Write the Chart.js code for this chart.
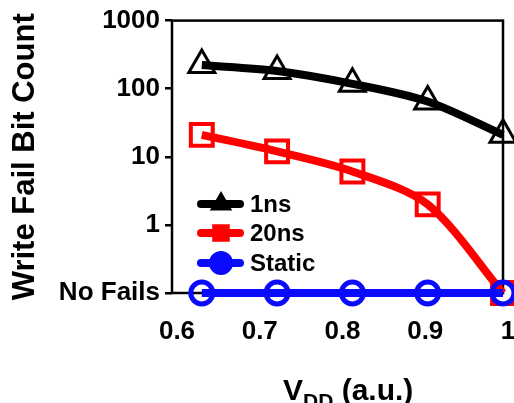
<!DOCTYPE html>
<html>
<head>
<meta charset="utf-8">
<script src="https://cdn.jsdelivr.net/npm/chart.js@4.4.1/dist/chart.umd.min.js"></script>
<style>
  html, body { margin: 0; padding: 0; background: #fff; }
  #wrap { width: 514px; height: 403px; }
</style>
</head>
<body>
<div id="wrap"><canvas id="chartCanvas" width="514" height="403"></canvas></div>
<script>
// VDD (normalised) for each measured point
const vdd = [0.636, 0.727, 0.818, 0.909, 1.0];
// write fail bit counts, 0.1 = "No Fails"
const fails1ns = [223, 182, 118, 65, 21];
const fails20ns = [21, 12, 6.1, 2.0, 0.1];
const failsStatic = [0.1, 0.1, 0.1, 0.1, 0.1];

const seriesNames = ['1ns', '20ns', 'Static'];
const xTicks = [0.6, 0.7, 0.8, 0.9, 1.0];
const xTickLabels = ['0.6', '0.7', '0.8', '0.9', '1'];
const yTicks = [0.1, 1, 10, 100, 1000];
const yTickLabels = ['No Fails', '1', '10', '100', '1000'];

const FONT = 'Liberation Sans, Arial, sans-serif';

function pts(ys) {
    return vdd.map((x, i) => ({ x: x, y: ys[i] }));
}

// box round the plot
const framePlugin = {
    id: 'frame',
    beforeDatasetsDraw(chart) {
        const a = chart.chartArea;
        const ctx = chart.ctx;
        ctx.save();
        ctx.strokeStyle = '#000';
        ctx.lineWidth = 2.5;
        ctx.strokeRect(a.left, a.top, a.right - a.left, a.bottom - a.top);
        ctx.restore();
    }
};

// legend inside the plot, lower left
const legendPlugin = {
    id: 'insideLegend',
    afterDatasetsDraw(chart) {
        const ctx = chart.ctx;
        const rows = [204, 233, 263];
        chart.data.datasets.forEach((ds, i) => {
            const y = rows[i];
            ctx.save();
            ctx.strokeStyle = ds.borderColor;
            ctx.lineWidth = 8;
            ctx.lineCap = 'round';
            ctx.beginPath();
            ctx.moveTo(201, y);
            ctx.lineTo(240, y);
            ctx.stroke();
            ctx.fillStyle = ds.borderColor;
            ctx.strokeStyle = ds.borderColor;
            ctx.lineWidth = 2;
            Chart.helpers.drawPoint(ctx, { pointStyle: ds.pointStyle, radius: 11, borderWidth: 2 }, 221, y);
            ctx.fillStyle = '#000';
            ctx.font = 'bold 24px ' + FONT;
            ctx.textBaseline = 'middle';
            ctx.textAlign = 'left';
            ctx.fillText(ds.label, 250, y + 1);
            ctx.restore();
        });
    }
};

// x title with subscript
const xTitlePlugin = {
    id: 'xTitle',
    afterDraw(chart) {
        const ctx = chart.ctx;
        ctx.save();
        ctx.fillStyle = '#000';
        ctx.textBaseline = 'alphabetic';
        ctx.textAlign = 'left';
        let x = 283;
        ctx.font = 'bold 30px ' + FONT;
        ctx.fillText('V', x, 400);
        x += ctx.measureText('V').width;
        ctx.font = 'bold 21px ' + FONT;
        ctx.fillText('DD', x, 408);
        x += ctx.measureText('DD').width;
        ctx.font = 'bold 30px ' + FONT;
        ctx.fillText(' (a.u.)', x, 400);
        ctx.restore();
    }
};

const ctx = document.getElementById('chartCanvas').getContext('2d');
const chart = new Chart(ctx, {
    type: 'line',
    data: {
        datasets: [{
            label: seriesNames[0],
            data: pts(fails1ns),
            borderColor: '#000000',
            pointStyle: 'triangle',
            pointRadius: 15,
            pointBorderWidth: 3,
            order: 2
        }, {
            label: seriesNames[1],
            data: pts(fails20ns),
            borderColor: '#ff0000',
            pointStyle: 'rect',
            pointRadius: 15.5,
            pointBorderWidth: 4,
            order: 1
        }, {
            label: seriesNames[2],
            data: pts(failsStatic),
            borderColor: '#0a0aff',
            pointStyle: 'circle',
            pointRadius: 11,
            pointBorderWidth: 5,
            order: 0
        }]
    },
    options: {
        responsive: false,
        animation: false,
        devicePixelRatio: 1,
        clip: false,
        layout: { autoPadding: false, padding: { top: 17, right: 11, left: 0, bottom: 0 } },
        elements: {
            line: { borderWidth: 8, tension: 0.3, fill: false },
            point: { backgroundColor: 'rgba(255,255,255,0)', hoverRadius: 15 }
        },
        scales: {
            x: {
                type: 'linear',
                min: 0.6,
                max: 1.0,
                afterBuildTicks: axis => { axis.ticks = xTicks.map(v => ({ value: v })); },
                afterFit: axis => {
                    axis.height = 110;
                    axis.paddingLeft = 0;
                    axis.paddingRight = 0;
                },
                ticks: {
                    callback: (v) => xTickLabels[xTicks.indexOf(v)],
                    color: '#000',
                    font: { family: FONT, size: 26, weight: 'bold' },
                    padding: 23,
                    labelOffset: 5,
                    maxRotation: 0
                },
                grid: { display: false, drawTicks: false },
                border: { display: false }
            },
            y: {
                type: 'logarithmic',
                min: 0.1,
                max: 1000,
                afterBuildTicks: axis => { axis.ticks = yTicks.map(v => ({ value: v })); },
                afterFit: axis => { axis.width = 172; },
                ticks: {
                    callback: (v) => yTickLabels[Math.round(Math.log10(v)) + 1],
                    color: '#000',
                    font: { family: FONT, size: 26, weight: 'bold' },
                    padding: 5
                },
                grid: {
                    drawOnChartArea: false,
                    drawTicks: true,
                    tickLength: 7,
                    color: '#000',
                    lineWidth: 2.5
                },
                border: { display: false },
                title: {
                    display: true,
                    text: 'Write Fail Bit Count',
                    color: '#000',
                    font: { family: FONT, size: 31, weight: 'bold' },
                    padding: { top: 7, bottom: 0 }
                }
            }
        },
        plugins: {
            legend: { display: false },
            tooltip: { enabled: false }
        }
    },
    plugins: [framePlugin, legendPlugin, xTitlePlugin]
});
</script>
</body>
</html>
